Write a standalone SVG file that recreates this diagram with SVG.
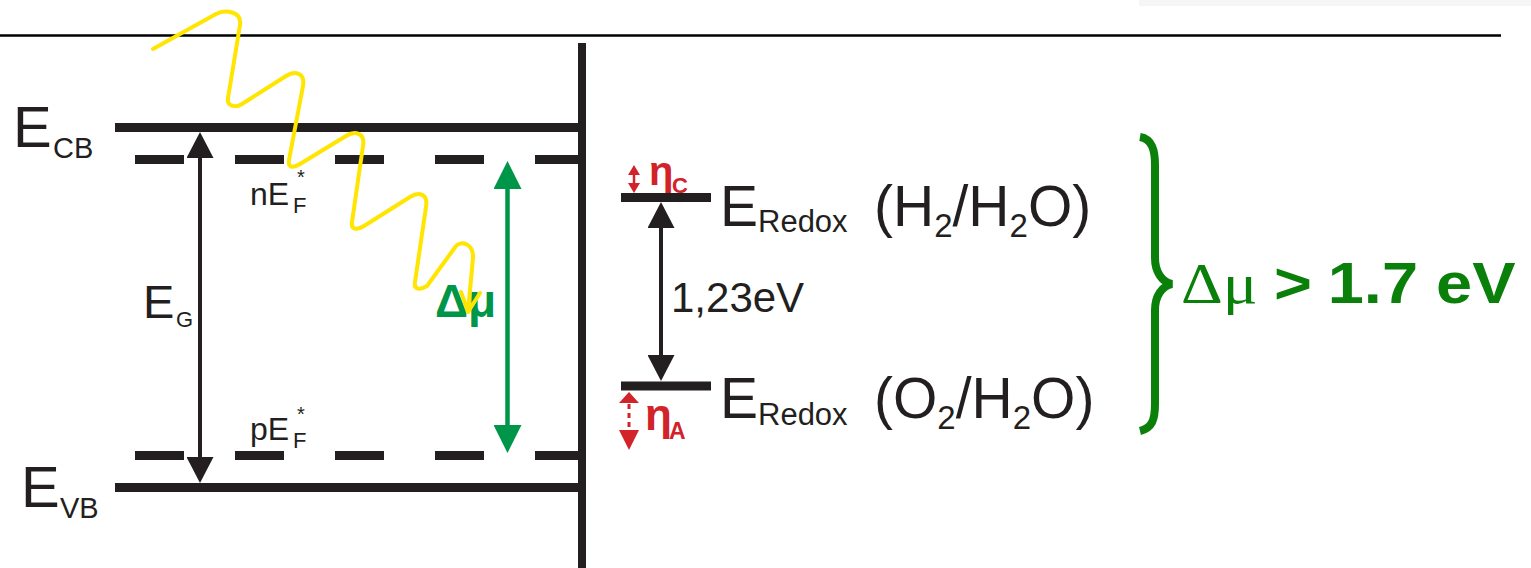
<svg xmlns="http://www.w3.org/2000/svg" width="1531" height="568" viewBox="0 0 1531 568">
<style>
.t{font-family:"Liberation Sans",Arial,sans-serif;fill:#231F20}
.lvl{stroke:#231F20;stroke-width:9;fill:none}
.dash{stroke:#231F20;stroke-width:9;fill:none;stroke-dasharray:49 51}
.red{fill:#D2232A;font-family:"Liberation Sans",Arial,sans-serif;font-weight:bold}
.grn{fill:#00964A;font-family:"Liberation Sans",Arial,sans-serif;font-weight:bold}
.res{fill:#0A800A}
</style>
<defs>
<marker id="ahK" viewBox="0 0 26 27" refX="18" refY="13.5" markerWidth="26" markerHeight="27" markerUnits="userSpaceOnUse" orient="auto-start-reverse"><path d="M0,0 L26,13.5 L0,27 Z" fill="#231F20"/></marker>
<marker id="ahG" viewBox="0 0 28 28" refX="20" refY="14" markerWidth="28" markerHeight="28" markerUnits="userSpaceOnUse" orient="auto-start-reverse"><path d="M0,0 L28,14 L0,28 Z" fill="#00964A"/></marker>
</defs>
<rect x="1139" y="0" width="392" height="6" fill="#F6F6F6"/>
<line x1="0" y1="35.5" x2="1501" y2="35.5" stroke="#000" stroke-width="2.5"/>

<g id="interface"><line x1="582" y1="43" x2="582" y2="568" stroke="#231F20" stroke-width="8"/></g>
<g id="ECB"><line class="lvl" x1="115" y1="127.5" x2="582" y2="127.5"/>
<text class="t" x="13" y="147" font-size="58">E</text><text class="t" x="53" y="158" font-size="29">CB</text></g>
<g id="nEF"><line class="dash" x1="135" y1="159.5" x2="582" y2="159.5"/>
<text class="t" x="250" y="205" font-size="32">nE</text><text class="t" x="293" y="213" font-size="22">F</text><text class="t" x="297" y="184" font-size="20">*</text></g>
<g id="pEF"><line class="dash" x1="135" y1="455.5" x2="582" y2="455.5"/>
<text class="t" x="250" y="440" font-size="32">pE</text><text class="t" x="293" y="448" font-size="22">F</text><text class="t" x="297" y="421" font-size="20">*</text></g>
<g id="EVB"><line class="lvl" x1="115" y1="487.5" x2="582" y2="487.5"/>
<text class="t" x="21" y="507" font-size="58">E</text><text class="t" x="60" y="518" font-size="29">VB</text></g>
<g id="EG"><text class="t" x="143" y="318" font-size="47">E</text><text class="t" x="176" y="327" font-size="22">G</text></g>
<g id="dmu"><text class="grn" x="435" y="317" font-size="46">Δμ</text></g>

<g id="redoxH2"><line class="lvl" x1="621" y1="197.5" x2="711" y2="197.5"/>
<text class="t" x="720" y="226" font-size="57">E</text><text class="t" x="758" y="232" font-size="31">Redox</text>
<text class="t" x="874" y="226" font-size="57">(H<tspan font-size="33" dy="11">2</tspan><tspan dy="-11">/H</tspan><tspan font-size="33" dy="11">2</tspan><tspan dy="-11">O)</tspan></text></g>
<g id="redoxO2"><line class="lvl" x1="621" y1="386" x2="711" y2="386"/>
<text class="t" x="720" y="418" font-size="57">E</text><text class="t" x="758" y="425" font-size="31">Redox</text>
<text class="t" x="874" y="418" font-size="57">(O<tspan font-size="33" dy="11">2</tspan><tspan dy="-11">/H</tspan><tspan font-size="33" dy="11">2</tspan><tspan dy="-11">O)</tspan></text></g>
<g id="etaC"><polygon points="634,165 640,175 628,175" fill="#D2232A"/><line x1="634" y1="174" x2="634" y2="184" stroke="#D2232A" stroke-width="2.5"/><polygon points="628,183 640,183 634,193" fill="#D2232A"/>
<text class="red" x="649" y="185" font-size="40">η</text><text class="red" x="672" y="193" font-size="22">C</text></g>
<g id="etaA"><polygon points="629,392 639,403 619,403" fill="#D2232A"/><line x1="629" y1="404" x2="629" y2="430" stroke="#D2232A" stroke-width="3" stroke-dasharray="5 4"/><polygon points="619,430 639,430 629,450" fill="#D2232A"/>
<text class="red" x="645" y="430" font-size="44">η</text><text class="red" x="669" y="439" font-size="23">A</text></g>
<g id="label123"><text class="t" x="671" y="312" font-size="42">1,23eV</text></g>

<g id="connectors">
<line x1="200" y1="140" x2="200" y2="475" stroke="#231F20" stroke-width="4" marker-start="url(#ahK)" marker-end="url(#ahK)"/>
<line x1="507.5" y1="169" x2="507.5" y2="445" stroke="#00964A" stroke-width="4.5" marker-start="url(#ahG)" marker-end="url(#ahG)"/>
<line x1="661" y1="210" x2="661" y2="373" stroke="#231F20" stroke-width="4" marker-start="url(#ahK)" marker-end="url(#ahK)"/>
</g>

<g id="result">
<path d="M1140,137 C1152,139 1155,150 1155,165 L1155,258 C1155,272 1162,282 1172,284 C1162,286 1155,296 1155,310 L1155,404 C1155,420 1152,428 1140,431" fill="none" stroke="#0A800A" stroke-width="8"/>
<text class="res" transform="translate(1181,303) scale(1.12,1)" font-family="Liberation Serif,serif" font-size="58">Δμ</text>
<text class="res" transform="translate(1274,303) scale(1.12,1)" font-family="Liberation Sans,Arial,sans-serif" font-weight="bold" font-size="58">&gt;<tspan x="48">1.7 eV</tspan></text>
</g>

<g id="photon" fill="none" stroke="#FFE500" stroke-width="4" stroke-linecap="round" stroke-linejoin="round">
<path d="M153,49 L216,14 C224.7,9.1 242.2,11.2 240,25 L228,98 C226.7,105.9 235.2,108.3 242,104 L286,76 C294.5,70.7 305.3,72.2 303,86 L289,160 C287.7,167.9 293.2,168.3 300,164 L346,136 C354.5,130.7 365.3,132.2 363,146 L352,222 C350.7,229.9 357.2,230.3 364,226 L410,197 C418.5,191.7 428.3,193.2 426,207 L415,282 C413.7,289.9 420.2,290.3 427,286 L456,246 C461.4,240 473.7,244 473,258 L468,312"/>
<path d="M461,292 L468,312 L480,293"/>
</g>
</svg>
